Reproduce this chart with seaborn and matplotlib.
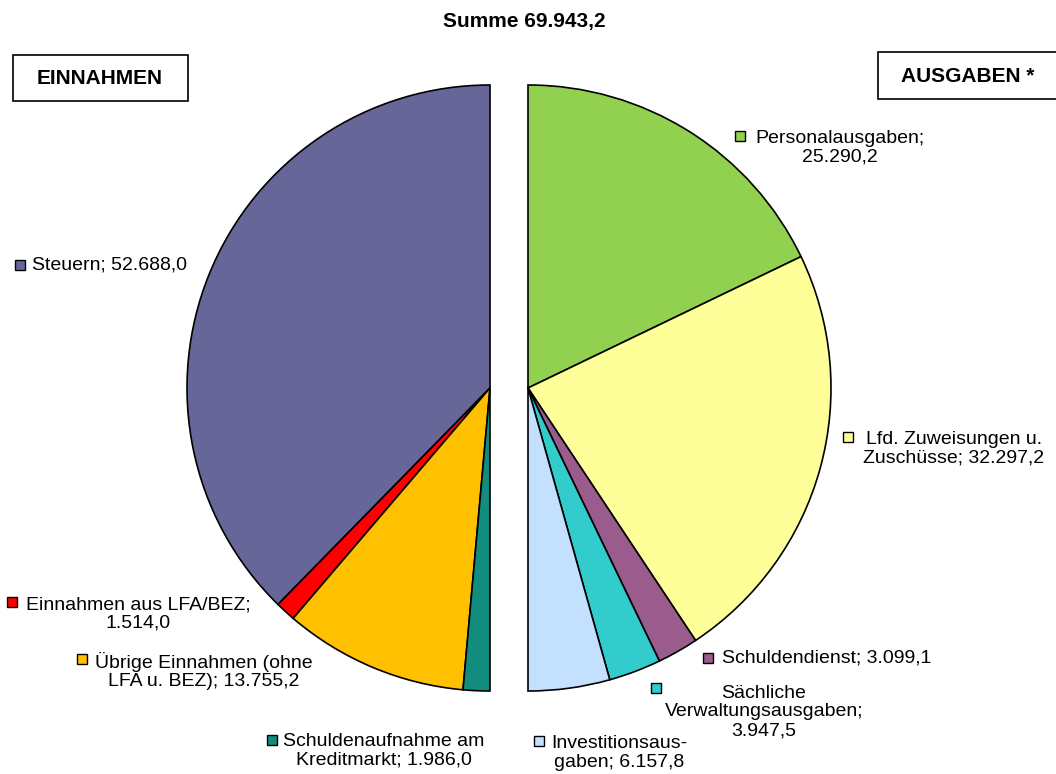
import numpy as np
import pandas as pd
import seaborn as sns
import matplotlib
matplotlib.use("Agg")
import matplotlib.pyplot as plt
from matplotlib.patches import Rectangle

# ---------------- data ----------------
ein_labels = ["Steuern", "Einnahmen aus LFA/BEZ", "Übrige Einnahmen (ohne LFA u. BEZ)",
              "Schuldenaufnahme am Kreditmarkt"]
ein_values = [52688.0, 1514.0, 13755.2, 1986.0]
ein_colors = ["#666699", "#FF0000", "#FFC000", "#128C7C"]

aus_labels = ["Personalausgaben", "Lfd. Zuweisungen u. Zuschüsse", "Schuldendienst",
              "Sächliche Verwaltungsausgaben", "Investitionsausgaben"]
aus_values = [25290.2, 32297.2, 3099.1, 3947.5, 6157.8]
aus_colors = ["#92D050", "#FFFF99", "#995C8C", "#33CCCC", "#C4E0FF"]

summe = 69943.2

# label texts (as in the picture, with line breaks)
ein_texts = ["Steuern; 52.688,0", "Einnahmen aus LFA/BEZ;\n1.514,0",
             "Übrige Einnahmen (ohne\nLFA u. BEZ); 13.755,2",
             "Schuldenaufnahme am\nKreditmarkt; 1.986,0"]
aus_texts = ["Personalausgaben;\n25.290,2", "Lfd. Zuweisungen u.\nZuschüsse; 32.297,2",
             "Schuldendienst; 3.099,1", "Sächliche\nVerwaltungsausgaben;\n3.947,5",
             "Investitionsaus-\ngaben; 6.157,8"]

# ---------------- style ----------------
sns.set_theme(style="white")
plt.rcParams["font.family"] = ["Liberation Sans", "DejaVu Sans"]
plt.rcParams["text.color"] = "black"

W, H = 1056, 774
fig = plt.figure(figsize=(W / 100, H / 100), dpi=100)
ax = fig.add_axes([0, 0, 1, 1])

def py(y):  # pixel row -> data y
    return H - y

R = 303
wp = dict(edgecolor="black", linewidth=1.2)

# left half (Einnahmen), counter-clockwise from top
lw, _ = ax.pie(ein_values + [sum(ein_values)], colors=ein_colors + ["white"],
               startangle=90, counterclock=True, radius=R,
               center=(490, py(388)), wedgeprops=wp, frame=True)
lw[-1].set_visible(False)

# right half (Ausgaben), clockwise from top
rw, _ = ax.pie(aus_values + [sum(aus_values)], colors=aus_colors + ["white"],
               startangle=90, counterclock=False, radius=R,
               center=(528, py(388)), wedgeprops=wp, frame=True)
rw[-1].set_visible(False)

ax.set_xlim(0, W)
ax.set_ylim(0, H)
ax.set_aspect("equal")
ax.axis("off")

# ---------------- labels ----------------
fs = 14
# (marker x, marker y, text x, text y-center, ha)
ein_pos = [(20, 265, 32, 265, "left"),
           (12, 602, 138, 614, "center"),
           (82, 659, 204, 671, "center"),
           (272, 740, 384, 751, "center")]
aus_pos = [(740, 136, 840, 148, "center"),
           (848, 437, 954, 449, "center"),
           (708, 658, 722, 658, "left"),
           (656, 688, 764, 712, "center"),
           (539, 741, 619, 753, "center")]

def add_label(pos, txt, col):
    mx, my, tx, ty, ha = pos
    ax.add_patch(Rectangle((mx - 5, py(my) - 5), 10, 10, facecolor=col,
                           edgecolor="black", linewidth=1.0, zorder=5))
    ax.text(tx, py(ty), txt, ha=ha, va="center", multialignment="center",
            fontsize=fs, color="black", linespacing=1.15)

for p, t, c in zip(ein_pos, ein_texts, ein_colors):
    add_label(p, t, c)
for p, t, c in zip(aus_pos, aus_texts, aus_colors):
    add_label(p, t, c)

# title
title = "Summe " + f"{summe:,.1f}".replace(",", "X").replace(".", ",").replace("X", ".")
ax.text(524, py(21), title, ha="center", va="center", fontsize=15,
        fontweight="bold", color="black")

# boxes
ax.add_patch(Rectangle((13, py(101)), 175, 46, facecolor="white",
                       edgecolor="black", linewidth=1.2, zorder=4))
ax.text(100, py(78), "EINNAHMEN", ha="center", va="center",
        fontsize=15, fontweight="bold", color="black", zorder=6)
ax.add_patch(Rectangle((878, py(99)), 200, 47, facecolor="white",
                       edgecolor="black", linewidth=1.2, zorder=4, clip_on=True))
ax.text(968, py(76), "AUSGABEN *", ha="center", va="center",
        fontsize=15, fontweight="bold", color="black", zorder=6)

fig.savefig("out.png", dpi=100)
